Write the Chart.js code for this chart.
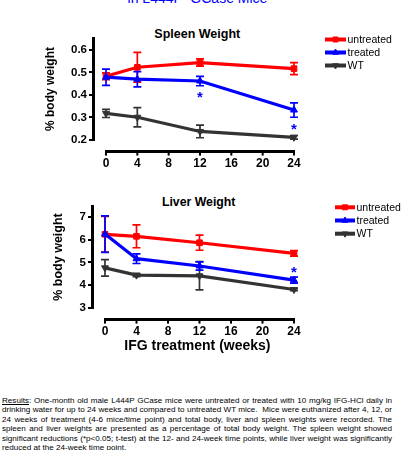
<!DOCTYPE html>
<html><head><meta charset="utf-8">
<script src="https://cdn.jsdelivr.net/npm/chart.js@4.4.1/dist/chart.umd.min.js"></script>
<style>
html,body{margin:0;padding:0;background:#fff;width:402px;height:450px;overflow:hidden;position:relative;font-family:"Liberation Sans",Arial,sans-serif;color:#000;}
.abs{position:absolute;}
#mainTitle{left:0;width:395px;top:-9.5px;text-align:center;font-size:14px;line-height:14px;color:#0000ff;white-space:pre;}
.ct{text-align:center;font-weight:bold;white-space:nowrap;width:300px;}
#spleenTitle{left:47.3px;top:26.5px;font-size:12.5px;line-height:14px;}
#liverTitle{left:48.7px;top:195px;font-size:12.3px;line-height:14px;}
#xTitle{left:47.4px;top:337.2px;font-size:14px;line-height:16px;}
#para{left:2px;width:390px;top:395.5px;font-size:8.1px;line-height:9.5px;}
#para div{text-align:justify;text-align-last:justify;white-space:normal;}
#para div.last{text-align-last:left;}
canvas{position:absolute;left:0;}
</style></head>
<body>
<div id="mainTitle" class="abs">in L444P  GCase Mice</div>
<div id="spleenTitle" class="abs ct">Spleen Weight</div>
<canvas id="spleen" width="402" height="175" style="top:0px"></canvas>
<div id="liverTitle" class="abs ct">Liver Weight</div>
<canvas id="liver" width="402" height="165" style="top:175px"></canvas>
<div id="xTitle" class="abs ct">IFG treatment (weeks)</div>
<div id="para" class="abs">
<div><u>Results</u>: One-month old male L444P GCase mice were untreated or treated with 10 mg/kg IFG-HCl daily in</div>
<div>drinking water for up to 24 weeks and compared to untreated WT mice.&nbsp; Mice were euthanized after 4, 12, or</div>
<div>24 weeks of treatment (4-6 mice/time point) and total body, liver and spleen weights were recorded. The</div>
<div>spleen and liver weights are presented as a percentage of total body weight. The spleen weight showed</div>
<div>significant reductions (*p&lt;0.05; t-test) at the 12- and 24-week time points, while liver weight was significantly</div>
<div class="last">reduced at the 24-week time point.</div>
</div>
<script>
// ---------- data ----------
const weeks = [0, 4, 12, 24];
const xTickWeeks = [0, 4, 8, 12, 16, 20, 24];
const seriesNames = ['untreated', 'treated', 'WT'];

const spleenUntreated    = [0.483, 0.523, 0.544, 0.517];
const spleenUntreatedErr = [0.015, 0.066, 0.016, 0.027];
const spleenTreated      = [0.479, 0.470, 0.462, 0.333];
const spleenTreatedErr   = [0.036, 0.034, 0.021, 0.032];
const spleenWT           = [0.318, 0.301, 0.238, 0.212];
const spleenWTErr        = [0.018, 0.043, 0.028, 0.008];
const spleenYTicks       = [0.2, 0.3, 0.4, 0.5, 0.6];
const spleenStarWeeks    = [12, 24];

const liverUntreated     = [6.23, 6.14, 5.86, 5.39];
const liverUntreatedErr  = [0.78, 0.50, 0.33, 0.12];
const liverTreated       = [6.24, 5.16, 4.84, 4.22];
const liverTreatedErr    = [0.80, 0.21, 0.18, 0.13];
const liverWT            = [4.76, 4.44, 4.41, 3.81];
const liverWTErr         = [0.36, 0.07, 0.62, 0.05];
const liverYTicks        = [3, 4, 5, 6, 7];
const liverStarWeeks     = [24];

// ---------- styles ----------
const COLORS = ['#ff0000', '#0000ff', '#333333'];
const PSTYLE = ['rect', 'triangle', 'triangle'];
const PROT = [0, 0, 180];
const ORDER = [2, 1, 3];
const FONT = '"Liberation Sans", Arial, sans-serif';
Chart.defaults.font.family = FONT;
Chart.defaults.color = '#000';

function makeDatasets(vals, errs) {
  return vals.map((v, i) => ({
    label: seriesNames[i],
    data: weeks.map((w, j) => ({x: w, y: v[j]})),
    errors: errs[i],
    borderColor: COLORS[i], backgroundColor: COLORS[i],
    pointBackgroundColor: COLORS[i], pointBorderColor: COLORS[i],
    borderWidth: 3.2, pointStyle: PSTYLE[i], rotation: PROT[i],
    pointRadius: 4, pointBorderWidth: 1, clip: false, order: ORDER[i], tension: 0
  }));
}

const errorBars = {
  id: 'errorBars',
  afterDatasetDraw(chart, args) {
    const ds = chart.data.datasets[args.index];
    const xs = chart.scales.x, ys = chart.scales.y, ctx = chart.ctx;
    ctx.save();
    ctx.strokeStyle = ds.borderColor; ctx.lineWidth = 1.7;
    ds.data.forEach((p, j) => {
      const e = ds.errors[j];
      const x = xs.getPixelForValue(p.x);
      const y1 = ys.getPixelForValue(p.y + e), y2 = ys.getPixelForValue(p.y - e);
      ctx.beginPath();
      ctx.moveTo(x, y1); ctx.lineTo(x, y2);
      ctx.moveTo(x - 4, y1); ctx.lineTo(x + 4, y1);
      ctx.moveTo(x - 4, y2); ctx.lineTo(x + 4, y2);
      ctx.stroke();
    });
    ctx.restore();
  }
};

const prismXAxis = {
  id: 'prismXAxis',
  afterDraw(chart, args, opts) {
    const xs = chart.scales.x, ctx = chart.ctx;
    const y = chart.chartArea.bottom + opts.gap;
    const px = xTickWeeks.map(v => xs.getPixelForValue(v));
    ctx.save();
    ctx.strokeStyle = '#000';
    ctx.lineWidth = 3;
    ctx.beginPath(); ctx.moveTo(px[0] - 1, y); ctx.lineTo(px[px.length - 1] + 1, y); ctx.stroke();
    ctx.lineWidth = 2;
    px.forEach(x => { ctx.beginPath(); ctx.moveTo(x, y); ctx.lineTo(x, y + 4); ctx.stroke(); });
    ctx.restore();
  }
};

const stars = {
  id: 'stars',
  afterDatasetsDraw(chart, args, opts) {
    const ds = chart.data.datasets[opts.dataset];
    const xs = chart.scales.x, ys = chart.scales.y, ctx = chart.ctx;
    ctx.save();
    ctx.fillStyle = COLORS[opts.dataset];
    ctx.font = 'bold 15px ' + FONT;
    ctx.textAlign = 'center'; ctx.textBaseline = 'alphabetic';
    opts.weeks.forEach(w => {
      const j = weeks.indexOf(w);
      const p = ds.data[j], e = ds.errors[j];
      const x = xs.getPixelForValue(p.x);
      let cy;
      if (opts.place === 'below') cy = ys.getPixelForValue(p.y - e) + opts.gap;
      else cy = ys.getPixelForValue(p.y + e) - opts.gap;
      ctx.fillText('*', x, cy + 8.6);
    });
    ctx.restore();
  }
};

const prismLegend = {
  id: 'prismLegend',
  afterDraw(chart, args, opts) {
    const ctx = chart.ctx;
    ctx.save();
    chart.data.datasets.forEach((ds, i) => {
      const y = opts.y + i * opts.row;
      ctx.strokeStyle = ds.borderColor; ctx.lineWidth = 4;
      ctx.beginPath(); ctx.moveTo(opts.x, y); ctx.lineTo(opts.x + opts.len, y); ctx.stroke();
      ctx.fillStyle = ds.borderColor; ctx.strokeStyle = ds.borderColor; ctx.lineWidth = 1;
      Chart.helpers.drawPoint(ctx, {pointStyle: ds.pointStyle, rotation: ds.rotation, radius: 3.5, borderWidth: 1}, opts.x + opts.len / 2, y);
      ctx.fillStyle = '#000';
      ctx.font = '10.5px ' + FONT;
      ctx.textAlign = 'left'; ctx.textBaseline = 'middle';
      ctx.fillText(ds.label, opts.x + opts.len + 1.5, y + 0.5);
    });
    ctx.restore();
  }
};

function makeChart(id, cfg) {
  return new Chart(document.getElementById(id), {
    type: 'line',
    data: {datasets: makeDatasets(cfg.vals, cfg.errs)},
    plugins: [errorBars, prismXAxis, stars, prismLegend],
    options: {
      responsive: false, animation: false, devicePixelRatio: 1,
      layout: {padding: {top: cfg.top, right: 108, left: 0, bottom: 0}},
      plugins: {
        legend: {display: false}, tooltip: {enabled: false}, title: {display: false},
        prismXAxis: {gap: 11.6},
        stars: cfg.stars,
        prismLegend: cfg.legend
      },
      scales: {
        x: {
          type: 'linear', min: cfg.xmin, max: 24,
          afterBuildTicks: s => { s.ticks = xTickWeeks.map(v => ({value: v})); },
          afterFit: s => { s.height = cfg.h - cfg.bottom; },
          grid: {display: false, drawTicks: false}, border: {display: false},
          ticks: {font: {size: 12, weight: 'bold'}, padding: 16, maxRotation: 0, autoSkip: false, color: '#000'}
        },
        y: {
          min: cfg.ymin, max: cfg.ymax,
          afterBuildTicks: s => { s.ticks = cfg.yticks.map(v => ({value: v})); },
          afterFit: s => { s.width = cfg.left; },
          grid: {display: true, drawOnChartArea: false, drawTicks: true, tickLength: 4, lineWidth: 2, color: '#000'},
          border: {display: true, width: 3, color: '#000'},
          ticks: {font: {size: 11.5, weight: 'bold'}, padding: 2, color: '#000', callback: cfg.fmt},
          title: {display: true, text: '% body weight', font: {size: cfg.ytsize, weight: 'bold'}, padding: {top: cfg.ytpad, bottom: 0}, color: '#000'}
        }
      }
    }
  });
}

makeChart('spleen', {
  vals: [spleenUntreated, spleenTreated, spleenWT],
  errs: [spleenUntreatedErr, spleenTreatedErr, spleenWTErr],
  top: 38, bottom: 140, h: 175, left: 93, xmin: -1.66,
  ymin: 0.2, ymax: 0.653, yticks: spleenYTicks, fmt: v => Number(v).toFixed(1),
  ytsize: 12, ytpad: 43.5,
  stars: {dataset: 1, weeks: spleenStarWeeks, place: 'below', gap: 8},
  legend: {x: 325, y: 39.5, row: 13, len: 21}
});

makeChart('liver', {
  vals: [liverUntreated, liverTreated, liverWT],
  errs: [liverUntreatedErr, liverTreatedErr, liverWTErr],
  top: 31, bottom: 133, h: 165, left: 92, xmin: -1.65,
  ymin: 3, ymax: 7.47, yticks: liverYTicks, fmt: v => String(v),
  ytsize: 12.5, ytpad: 51,
  stars: {dataset: 1, weeks: liverStarWeeks, place: 'above', gap: 8.5},
  legend: {x: 335, y: 207.3 - 175, row: 13.2, len: 20}
});
</script>
</body></html>
